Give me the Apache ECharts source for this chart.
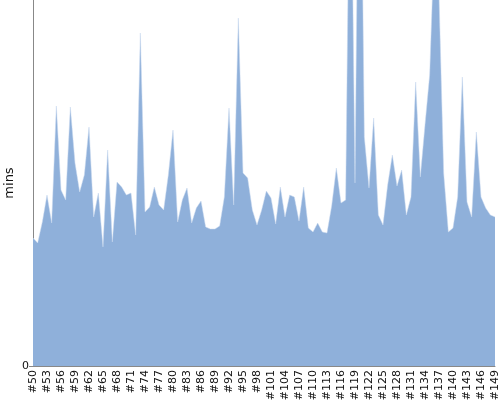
<!DOCTYPE html>
<html><head><meta charset="utf-8">
<script src="https://cdn.jsdelivr.net/npm/echarts@6/dist/echarts.min.js"></script>
<style>html,body{margin:0;padding:0;background:#fff}#c{width:500px;height:400px}</style>
</head><body><div id="c"></div>
<script>
var categories = [];
for (var n = 50; n <= 149; n++) categories.push('#' + n);
var minsValues = [
128,123,144,171,143,260,176,166,259,203,
174,191,239,149,173,119,216,124,184,179,
171,173,131,333,154,159,179,161,156,191,
236,144,166,178,143,158,165,139,137,137,
140,169,258,161,348,193,188,156,141,156,
175,168,142,179,149,171,169,145,179,138,
134,143,134,133,160,198,163,166,586,183,
656,229,178,248,151,141,181,211,180,196,
151,169,284,189,241,291,426,371,193,134,
138,169,289,164,149,234,169,158,151,149
];
var yMax = 366;
var chart = echarts.init(document.getElementById('c'));
chart.setOption({
  animation: false,
  grid: {left: 33, top: 0, right: 5, bottom: 34, containLabel: false, outerBoundsMode: 'none'},
  xAxis: {
    type: 'category', data: categories, boundaryGap: false,
    axisLine: {lineStyle: {color: '#888'}},
    axisTick: {show: false},
    axisLabel: {interval: 2, rotate: 90, color: '#111', fontSize: 11, fontFamily: 'DejaVu Sans', margin: 4}
  },
  yAxis: {
    type: 'value', min: 0, max: yMax, interval: yMax,
    name: 'mins', nameLocation: 'middle', nameGap: 17, nameMoveOverlap: false,
    nameTextStyle: {color: '#111', fontSize: 13, fontFamily: 'DejaVu Sans'},
    axisLine: {show: true, lineStyle: {color: '#888'}},
    axisTick: {show: true, length: 4, lineStyle: {color: '#888'}},
    splitLine: {show: false},
    axisLabel: {showMaxLabel: false, color: '#111', fontSize: 11, fontFamily: 'DejaVu Sans', margin: 4}
  },
  series: [{
    type: 'line', data: minsValues, symbol: 'none', clip: true,
    lineStyle: {width: 0.5, color: '#c9d8ee'},
    areaStyle: {color: '#8fb0da', opacity: 1}
  }]
});
</script></body></html>
